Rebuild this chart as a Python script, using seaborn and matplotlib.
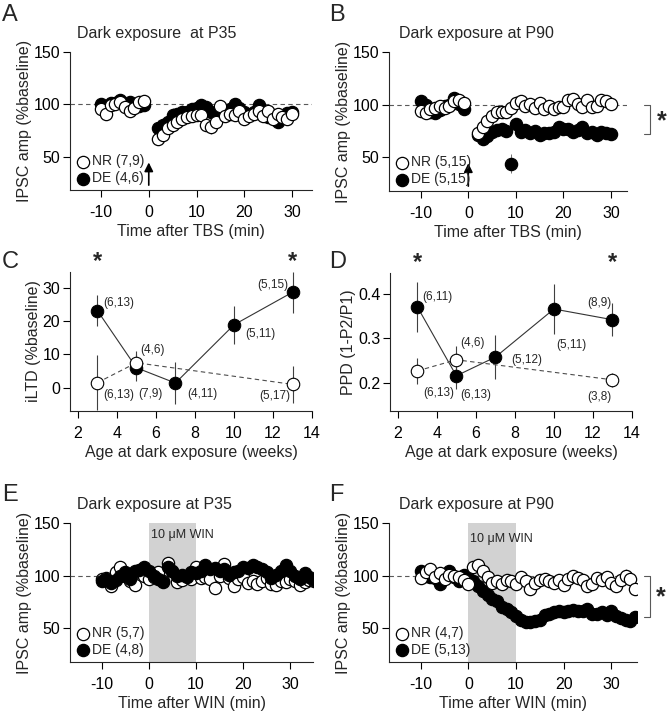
import numpy as np
import pandas as pd
import matplotlib
matplotlib.use('Agg')
import matplotlib.pyplot as plt
import seaborn as sns

# ---- panel A: dark exposure at P35, TBS ----
a_time = [-10, -9, -8, -7, -6, -5, -4, -3, -2, -1] + list(range(2, 31))
a_nr = [95, 91, 99, 100, 102, 97, 94, 96, 102, 103,
        67, 71, 77, 80, 83, 86, 88, 89, 90, 90, 80, 78, 83, 98, 89, 91, 90, 94, 86, 89,
        91, 94, 89, 94, 86, 91, 88, 86, 91]
a_nr_err = [3, 3, 2, 3, 2, 3, 2, 3, 2, 3,
            6, 5, 4, 4, 4, 4, 5, 5, 6, 5, 5, 6, 5, 5, 5, 6, 5, 4, 5, 5,
            5, 6, 5, 5, 5, 4, 5, 5, 4]
a_de = [100, 97, 101, 101, 104, 100, 102, 97, 98, 99,
        77, 80, 83, 90, 91, 93, 93, 95, 96, 99, 97, 93, 92, 90, 92, 95, 100, 96, 93, 90,
        93, 99, 91, 88, 90, 83, 88, 92, 93]
a_de_err = [3, 2, 3, 2, 3, 3, 2, 3, 2, 2,
            8, 6, 5, 6, 5, 6, 7, 6, 5, 6, 5, 6, 5, 6, 5, 6, 6, 5, 6, 5,
            6, 5, 6, 5, 6, 5, 6, 5, 5]

# ---- panel B: dark exposure at P90, TBS ----
b_time = [-10, -9, -8, -7, -6, -5, -4, -3, -2, -1] + list(range(2, 31))
b_nr = [94, 92, 96, 97, 99, 97, 99, 103, 104, 102,
        73, 79, 84, 89, 93, 93, 93, 97, 102, 103, 99, 101, 97, 102, 96, 99, 96, 98, 98, 104,
        105, 101, 98, 104, 98, 99, 104, 103, 101]
b_nr_err = [3, 2, 3, 2, 3, 2, 3, 2, 3, 2,
            4, 4, 4, 4, 5, 5, 5, 5, 6, 5, 5, 5, 5, 5, 5, 5, 5, 4, 5, 5,
            5, 5, 5, 5, 5, 5, 4, 5, 4]
b_de = [103, 100, 93, 92, 95, 99, 100, 106, 101, 96,
        71, 67, 70, 74, 76, 77, 75, 44, 82, 74, 76, 73, 75, 71, 73, 73, 74, 79, 77, 77,
        74, 76, 79, 73, 74, 71, 74, 73, 72]
b_de_err = [3, 2, 3, 2, 3, 2, 3, 2, 3, 2,
            4, 4, 4, 4, 4, 4, 4, 9, 4, 5, 5, 5, 5, 5, 4, 5, 5, 5, 4, 5,
            5, 5, 5, 5, 5, 5, 5, 5, 4]

# ---- panel C: iLTD vs age ----
c_weeks_nr = [3, 5, 13]
c_nr = [1.5, 7.5, 1.0]
c_nr_err = [8.2, 3.5, 5.5]
c_weeks_de = [3, 5, 7, 10, 13]
c_de = [23.2, 6.0, 1.4, 18.9, 28.7]
c_de_err = [4.8, 4.0, 6.2, 5.8, 6.2]
c_labels = [('(6,13)', 3.3, 25.5, 'left'), ('(6,13)', 3.3, -2.1, 'left'),
            ('(4,6)', 5.2, 11.4, 'left'), ('(7,9)', 5.1, -1.8, 'left'),
            ('(4,11)', 7.6, -1.8, 'left'), ('(5,11)', 10.6, 16.2, 'left'),
            ('(5,15)', 12.8, 30.9, 'right'), ('(5,17)', 12.9, -2.4, 'right')]

# ---- panel D: PPD vs age ----
d_weeks_nr = [3, 5, 13]
d_nr = [0.227, 0.252, 0.207]
d_nr_err = [0.03, 0.031, 0.016]
d_weeks_de = [3, 5, 7, 10, 13]
d_de = [0.371, 0.216, 0.258, 0.366, 0.342]
d_de_err = [0.056, 0.03, 0.05, 0.057, 0.037]
d_labels = [('(6,11)', 3.25, 0.393, 'left'), ('(6,13)', 3.3, 0.178, 'left'),
            ('(6,13)', 5.2, 0.173, 'left'), ('(4,6)', 5.2, 0.29, 'left'),
            ('(5,12)', 7.8, 0.252, 'left'), ('(5,11)', 10.1, 0.285, 'left'),
            ('(8,9)', 12.95, 0.38, 'right'), ('(3,8)', 12.95, 0.169, 'right')]

# ---- panel E: WIN at P35 ----
e_time = list(range(-10, 36))
e_nr = [97, 98, 90, 103, 108, 100, 95, 91, 103, 100,
        97, 99, 103, 95, 112, 104, 94, 96, 100, 97,
        108, 98, 99, 97, 88, 100, 111, 98, 90, 97,
        99, 93, 95, 92, 95, 98, 92, 91, 95, 94,
        97, 95, 91, 94, 96, 95]
e_nr_err = [3, 3, 3, 3, 3, 3, 3, 3, 3, 3, 3, 4, 3, 4, 4, 3, 4, 4, 3, 4,
            5, 4, 4, 5, 4, 5, 5, 4, 4, 5, 5, 4, 5, 4, 5, 4, 5, 4, 5, 4,
            5, 4, 5, 4, 5, 4]
e_de = [95, 97, 93, 96, 100, 103, 97, 104, 105, 108,
        104, 100, 97, 94, 108, 104, 100, 101, 99, 103,
        102, 104, 110, 106, 107, 104, 106, 101, 103, 104,
        108, 107, 110, 108, 106, 103, 98, 101, 104, 110,
        104, 100, 97, 102, 99, 96]
e_de_err = [2, 2, 2, 2, 3, 3, 3, 3, 3, 3, 3, 3, 3, 3, 4, 3, 3, 4, 3, 4,
            4, 4, 4, 4, 4, 4, 5, 4, 5, 5, 6, 5, 5, 6, 5, 5, 5, 6, 5, 5,
            6, 5, 5, 6, 5, 5]

# ---- panel F: WIN at P90 ----
f_time = list(range(-10, 36))
f_nr = [98, 103, 106, 99, 102, 97, 101, 100, 99, 96,
        92, 108, 110, 104, 99, 93, 95, 92, 96, 95,
        92, 99, 95, 87, 93, 96, 97, 95, 93, 96,
        91, 97, 100, 98, 96, 90, 92, 98, 96, 99,
        93, 90, 96, 100, 97, 87]
f_nr_err = [3, 3, 3, 3, 3, 3, 3, 3, 3, 3, 4, 4, 4, 4, 4, 4, 4, 4, 4, 4,
            5, 4, 5, 4, 5, 4, 5, 4, 5, 4, 5, 5, 5, 5, 5, 5, 5, 5, 5, 5,
            5, 6, 5, 6, 5, 5]
f_de = [104, 100, 99, 98, 92, 100, 104, 99, 95, 101,
        98, 95, 90, 85, 82, 78, 76, 70, 68, 65,
        62, 58, 56, 56, 57, 58, 63, 64, 65, 66,
        65, 66, 67, 66, 66, 68, 64, 64, 65, 63,
        66, 62, 60, 58, 57, 61]
f_de_err = [2, 2, 2, 2, 3, 2, 3, 2, 3, 3, 3, 3, 3, 3, 4, 4, 4, 4, 4, 4,
            5, 5, 4, 4, 5, 5, 5, 5, 6, 5, 5, 5, 6, 5, 5, 5, 6, 5, 5, 5,
            5, 5, 5, 5, 4, 5]

sns.set_style('ticks')
plt.rcParams['font.family'] = ['Liberation Sans', 'DejaVu Sans']
plt.rcParams['axes.linewidth'] = 0.8
plt.rcParams['xtick.major.width'] = 0.8
plt.rcParams['ytick.major.width'] = 0.8
plt.rcParams['axes.unicode_minus'] = False

fig = plt.figure(figsize=(6.68, 7.2), dpi=100)
axA = fig.add_axes([0.1048, 0.7361, 0.3623, 0.1917])
axB = fig.add_axes([0.5823, 0.7347, 0.3563, 0.1931])
axC = fig.add_axes([0.1048, 0.4292, 0.3623, 0.1931])
axD = fig.add_axes([0.5838, 0.4292, 0.3623, 0.1917])
axE = fig.add_axes([0.1048, 0.0806, 0.3638, 0.1931])
axF = fig.add_axes([0.5823, 0.0806, 0.3713, 0.1931])


def style_axis(ax):
    sns.despine(ax=ax)
    ax.tick_params(axis='both', direction='out', length=5, labelsize=11.5, colors='k')
    ax.tick_params(axis='x', pad=6)
    ax.tick_params(axis='y', pad=2)


def scatter(ax, t, y, err, filled, label):
    ax.errorbar(t, y, yerr=err, fmt='none', ecolor='0.35', elinewidth=0.6, capsize=0, zorder=2)
    sns.scatterplot(x=t, y=y, ax=ax, s=78, color='black' if filled else 'white',
                    edgecolor='black', linewidth=0.9, zorder=3, label=label)


def time_panel(ax, title, xlabel, xlim, series, tx):
    ax.axhline(100, color='0.35', lw=0.8, ls=(0, (4, 3)), zorder=0)
    for t, y, err, filled, label in series:
        scatter(ax, t, y, err, filled, label)
    handles, labels = ax.get_legend_handles_labels()
    order = [labels.index(l) for l in sorted(labels, key=lambda s: not s.startswith('NR'))]
    ax.legend([handles[i] for i in order], [labels[i] for i in order],
              loc='lower left', frameon=False, fontsize=10, handletextpad=0.05,
              borderaxespad=0.15, borderpad=0.2, labelspacing=0.2, handlelength=1.2)
    ax.set_xlim(*xlim)
    ax.set_ylim(18, 150)
    ax.set_xticks([-10, 0, 10, 20, 30])
    ax.set_yticks([50, 100, 150])
    ax.set_xlabel(xlabel, fontsize=11.5, labelpad=3)
    ax.set_ylabel('IPSC amp (%baseline)', fontsize=11.5, labelpad=1)
    ax.text(tx, 1.135, title, transform=ax.transAxes, fontsize=11.5, va='center', ha='left')
    style_axis(ax)


def age_panel(ax, wk_nr, nr, nr_err, wk_de, de, de_err, labels, ylabel, ylim, yticks, ytl):
    ax.errorbar(wk_de, de, yerr=de_err, fmt='none', ecolor='0.25', elinewidth=0.8, capsize=0, zorder=1)
    ax.errorbar(wk_nr, nr, yerr=nr_err, fmt='none', ecolor='0.25', elinewidth=0.8, capsize=0, zorder=1)
    sns.lineplot(x=wk_de, y=de, ax=ax, color='0.2', lw=0.8, marker='o', markersize=9,
                 markerfacecolor='black', markeredgecolor='black', zorder=2)
    sns.lineplot(x=wk_nr, y=nr, ax=ax, color='0.3', lw=0.8, dashes=(4, 3), marker='o',
                 markersize=9, markerfacecolor='white', markeredgecolor='black',
                 markeredgewidth=0.8, zorder=3)
    for txt, x, y, ha in labels:
        ax.text(x, y, txt, fontsize=8.5, ha=ha, va='center')
    for wk in (3, 13):
        ax.text(wk, 1.075, '*', transform=ax.get_xaxis_transform(), fontsize=17,
                ha='center', va='center', fontweight='bold')
    ax.set_xlim(1.6, 14)
    ax.set_ylim(*ylim)
    ax.set_xticks([2, 4, 6, 8, 10, 12, 14])
    ax.set_yticks(yticks)
    ax.set_yticklabels(ytl)
    ax.set_xlabel('Age at dark exposure (weeks)', fontsize=11.5, labelpad=3)
    ax.set_ylabel(ylabel, fontsize=11.5, labelpad=1)
    style_axis(ax)


def bracket(ax, x0, x1, y_top, y_bot, xs, ys):
    tr = ax.get_yaxis_transform()
    ax.plot([x0, x1, x1, x0], [y_top, y_top, y_bot, y_bot], color='0.35', lw=0.8,
            transform=tr, clip_on=False)
    ax.text(xs, ys, '*', transform=tr, fontsize=18, ha='center', va='center', fontweight='bold')


# A
time_panel(axA, 'Dark exposure  at P35', 'Time after TBS (min)', (-16.5, 34.2),
           [(a_time, a_de, a_de_err, True, 'DE (4,6)'),
            (a_time, a_nr, a_nr_err, False, 'NR (7,9)')], 0.03)
axA.annotate('', xy=(0, 47), xytext=(0, 20),
             arrowprops=dict(arrowstyle='-|>', color='black', lw=1.2, mutation_scale=13))

# B
time_panel(axB, 'Dark exposure at P90', 'Time after TBS (min)', (-16.7, 33.4),
           [(b_time, b_de, b_de_err, True, 'DE (5,15)'),
            (b_time, b_nr, b_nr_err, False, 'NR (5,15)')], 0.042)
axB.annotate('', xy=(0, 47), xytext=(0, 20),
             arrowprops=dict(arrowstyle='-|>', color='black', lw=1.2, mutation_scale=13))
bracket(axB, 1.07, 1.095, 100, 72, 1.145, 84)

# C
age_panel(axC, c_weeks_nr, c_nr, c_nr_err, c_weeks_de, c_de, c_de_err, c_labels,
          'iLTD (%baseline)', (-7, 34.8), [0, 10, 20, 30], ['0', '10', '20', '30'])

# D
age_panel(axD, d_weeks_nr, d_nr, d_nr_err, d_weeks_de, d_de, d_de_err, d_labels,
          'PPD (1-P2/P1)', (0.137, 0.447), [0.2, 0.3, 0.4], ['0.2', '0.3', '0.4'])

# E
axE.axvspan(0, 10, color='#d2d2d2', zorder=0, lw=0)
time_panel(axE, 'Dark exposure at P35', 'Time after WIN (min)', (-16.7, 34.8),
           [(e_time, e_nr, e_nr_err, False, 'NR (5,7)'),
            (e_time, e_de, e_de_err, True, 'DE (4,8)')], 0.03)
axE.text(0.4, 139, '10 \u03bcM WIN', fontsize=9, ha='left', va='center')

# F
axF.axvspan(0, 10, color='#d2d2d2', zorder=0, lw=0)
time_panel(axF, 'Dark exposure at P90', 'Time after WIN (min)', (-16.7, 35.4),
           [(f_time, f_de, f_de_err, True, 'DE (5,13)'),
            (f_time, f_nr, f_nr_err, False, 'NR (4,7)')], 0.04)
axF.text(0.4, 135, '10 \u03bcM WIN', fontsize=9, ha='left', va='center')
bracket(axF, 1.028, 1.052, 100, 61, 1.097, 79)

for letter, x, y in [('A', 0.003, 0.995), ('B', 0.493, 0.995), ('C', 0.003, 0.652),
                     ('D', 0.493, 0.652), ('E', 0.003, 0.328), ('F', 0.493, 0.328)]:
    fig.text(x, y, letter, fontsize=17, ha='left', va='top')

fig.savefig('out.png', dpi=100)
